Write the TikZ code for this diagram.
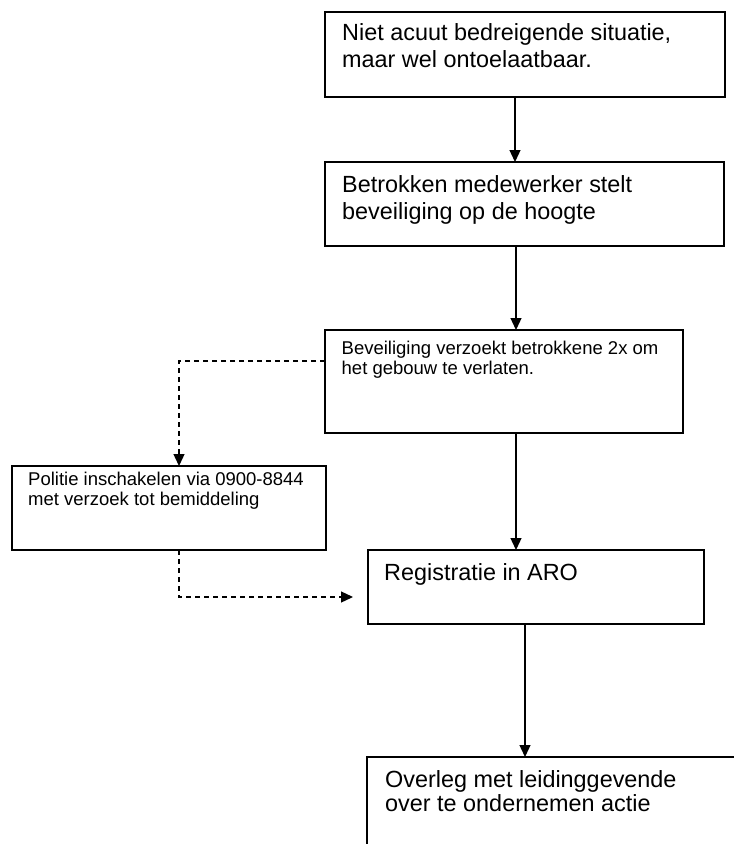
\documentclass[tikz,border=0pt]{standalone}
\usepackage{fontspec}
\setmainfont{Liberation Sans}
\usetikzlibrary{arrows.meta}
\begin{document}
\begin{tikzpicture}[x=1pt,y=-1pt,
  box/.style={draw,line width=1.3pt,inner sep=0pt,outer sep=0pt},
  bigtxt/.style={anchor=north west,inner sep=0pt,align=left,font=\fontsize{23.4}{27}\selectfont},
  smalltxt/.style={anchor=north west,inner sep=0pt,align=left,font=\fontsize{18.5}{20}\selectfont},
  flow/.style={line width=1.3pt,-{Triangle[length=12pt,width=11pt]}},
  side/.style={flow,dash pattern=on 5pt off 4pt}]
% 734pt x 844pt, the last box runs off the page
\useasboundingbox (0,0) rectangle (734,844);
\clip (0,0) rectangle (734,844);
\node[box,minimum width=400pt,minimum height=85pt] (b1) at (525,54.5) {};
\node[bigtxt] (t1) at ([shift={(17,9.8)}]b1.north west) {\strut Niet acuut bedreigende situatie,\\maar wel ontoelaatbaar.};
\node[box,minimum width=399pt,minimum height=84pt] (b2) at (524.5,204) {};
\node[bigtxt] (t2) at ([shift={(17,11.8)}]b2.north west) {\strut Betrokken medewerker stelt\\beveiliging op de hoogte};
\node[box,minimum width=358pt,minimum height=103pt] (b3) at (504,381.5) {};
\node[smalltxt] (t3) at ([shift={(16.5,10)}]b3.north west) {\strut Beveiliging verzoekt betrokkene 2x om\\het gebouw te verlaten.};
\node[box,minimum width=314pt,minimum height=84pt] (b4) at (169,508) {};
\node[smalltxt] (t4) at ([shift={(16,5)}]b4.north west) {\strut Politie inschakelen via 0900-8844\\met verzoek tot bemiddeling};
\node[box,minimum width=336pt,minimum height=74pt] (b5) at (536,587) {};
\node[bigtxt] (t5) at ([shift={(16,11.1)}]b5.north west) {\strut Registratie in ARO};
\node[box,minimum width=500pt,minimum height=200pt] (b6) at (617,857) {};
\node[bigtxt,font=\fontsize{23.4}{23}\selectfont] (t6) at ([shift={(18,12.9)}]b6.north west) {\strut Overleg met leidinggevende\\over te ondernemen actie};
% main line
\coordinate (m1) at (515,0);
\coordinate (m2) at (516,0);
\coordinate (m3) at (525,0);
\draw[flow] (b1.south -| m1) -- (b2.north -| m1);
\draw[flow] (b2.south -| m2) -- (b3.north -| m2);
\draw[flow] (b3.south -| m2) -- (b5.north -| m2);
\draw[flow] (b5.south -| m3) -- (b6.north -| m3);
% police, dashed
\draw[side] ([yshift=-31pt]b3.north west) -| ([xshift=10pt]b4.north);
\draw[side] ([xshift=10pt]b4.south) |- ([shift={(-15,10)}]b5.west);
\end{tikzpicture}
\end{document}
